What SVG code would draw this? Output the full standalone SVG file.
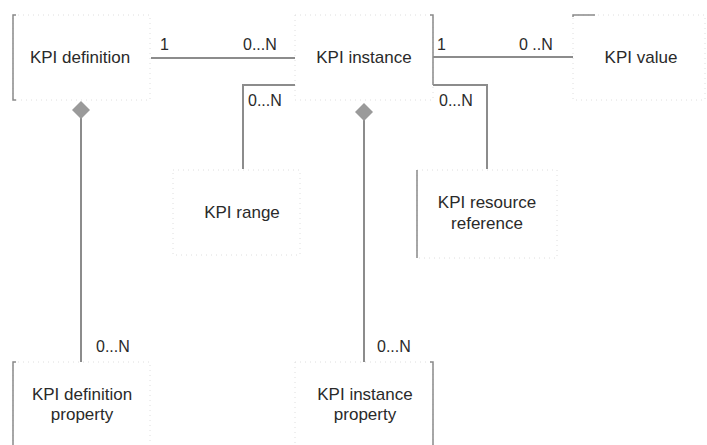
<svg xmlns="http://www.w3.org/2000/svg" width="707" height="445" viewBox="0 0 707 445">
<style>
text{font-family:"Liberation Sans",Arial,sans-serif;fill:#2a2a2a}
.name{font-size:17px;text-anchor:middle}
.mult{font-size:16px}
.frame{fill:none;stroke:#dedede;stroke-width:1;stroke-dasharray:1 4}
.edge{stroke:#8a8a8a;stroke-width:1.5;fill:none}
.conn{stroke:#8c8c8c;stroke-width:2;fill:none}
.dia{fill:#9a9a9a}
</style>
<rect width="707" height="445" fill="#ffffff"/>
<g id="kpi-definition">
<rect class="frame" x="13" y="15" width="137" height="85"/>
<path class="edge" d="M16 15H13V100H16"/>
<text class="name" x="80" y="63">KPI definition</text>
</g>
<g id="kpi-instance">
<rect class="frame" x="295" y="15" width="138" height="85"/>
<path class="edge" d="M430 15H433V85"/>
<text class="name" x="364" y="63">KPI instance</text>
</g>
<g id="kpi-value">
<rect class="frame" x="573" y="15" width="132" height="85"/>
<path class="edge" d="M573 17V15H595"/>
<text class="name" x="641" y="63">KPI value</text>
</g>
<g id="kpi-range">
<rect class="frame" x="173" y="170" width="127" height="85"/>
<text class="name" x="242" y="218">KPI range</text>
</g>
<g id="kpi-resource-reference">
<rect class="frame" x="417" y="170" width="140" height="88"/>
<path class="edge" d="M417 170V258"/>
<text class="name" x="487" y="208">KPI resource</text>
<text class="name" x="487" y="229">reference</text>
</g>
<g id="kpi-definition-property">
<rect class="frame" x="13" y="362" width="137" height="90"/>
<path class="edge" d="M16 362H13V445"/>
<text class="name" x="82" y="400">KPI definition</text>
<text class="name" x="82" y="420">property</text>
</g>
<g id="kpi-instance-property">
<rect class="frame" x="295" y="362" width="138" height="90"/>
<path class="edge" d="M430 362H433V445"/>
<text class="name" x="365" y="400">KPI instance</text>
<text class="name" x="365" y="420">property</text>
</g>
<g id="connectors">
<path class="conn" d="M151 58H295"/>
<text class="mult" x="160" y="50">1</text>
<text class="mult" x="243" y="50">0...N</text>
<path class="conn" d="M433 57H573"/>
<text class="mult" x="437" y="50">1</text>
<text class="mult" x="519" y="50">0 ..N</text>
<path class="conn" d="M243 169V85H295"/>
<text class="mult" x="248" y="106">0...N</text>
<path class="conn" d="M433 85H487V169"/>
<text class="mult" x="439" y="106">0...N</text>
<path class="conn" d="M81 118V362"/>
<path class="dia" d="M81 101L90 110L81 119L72 110Z"/>
<text class="mult" x="96" y="352">0...N</text>
<path class="conn" d="M364 120V362"/>
<path class="dia" d="M364 103L373 112L364 121L355 112Z"/>
<text class="mult" x="377" y="352">0...N</text>
</g>
</svg>
